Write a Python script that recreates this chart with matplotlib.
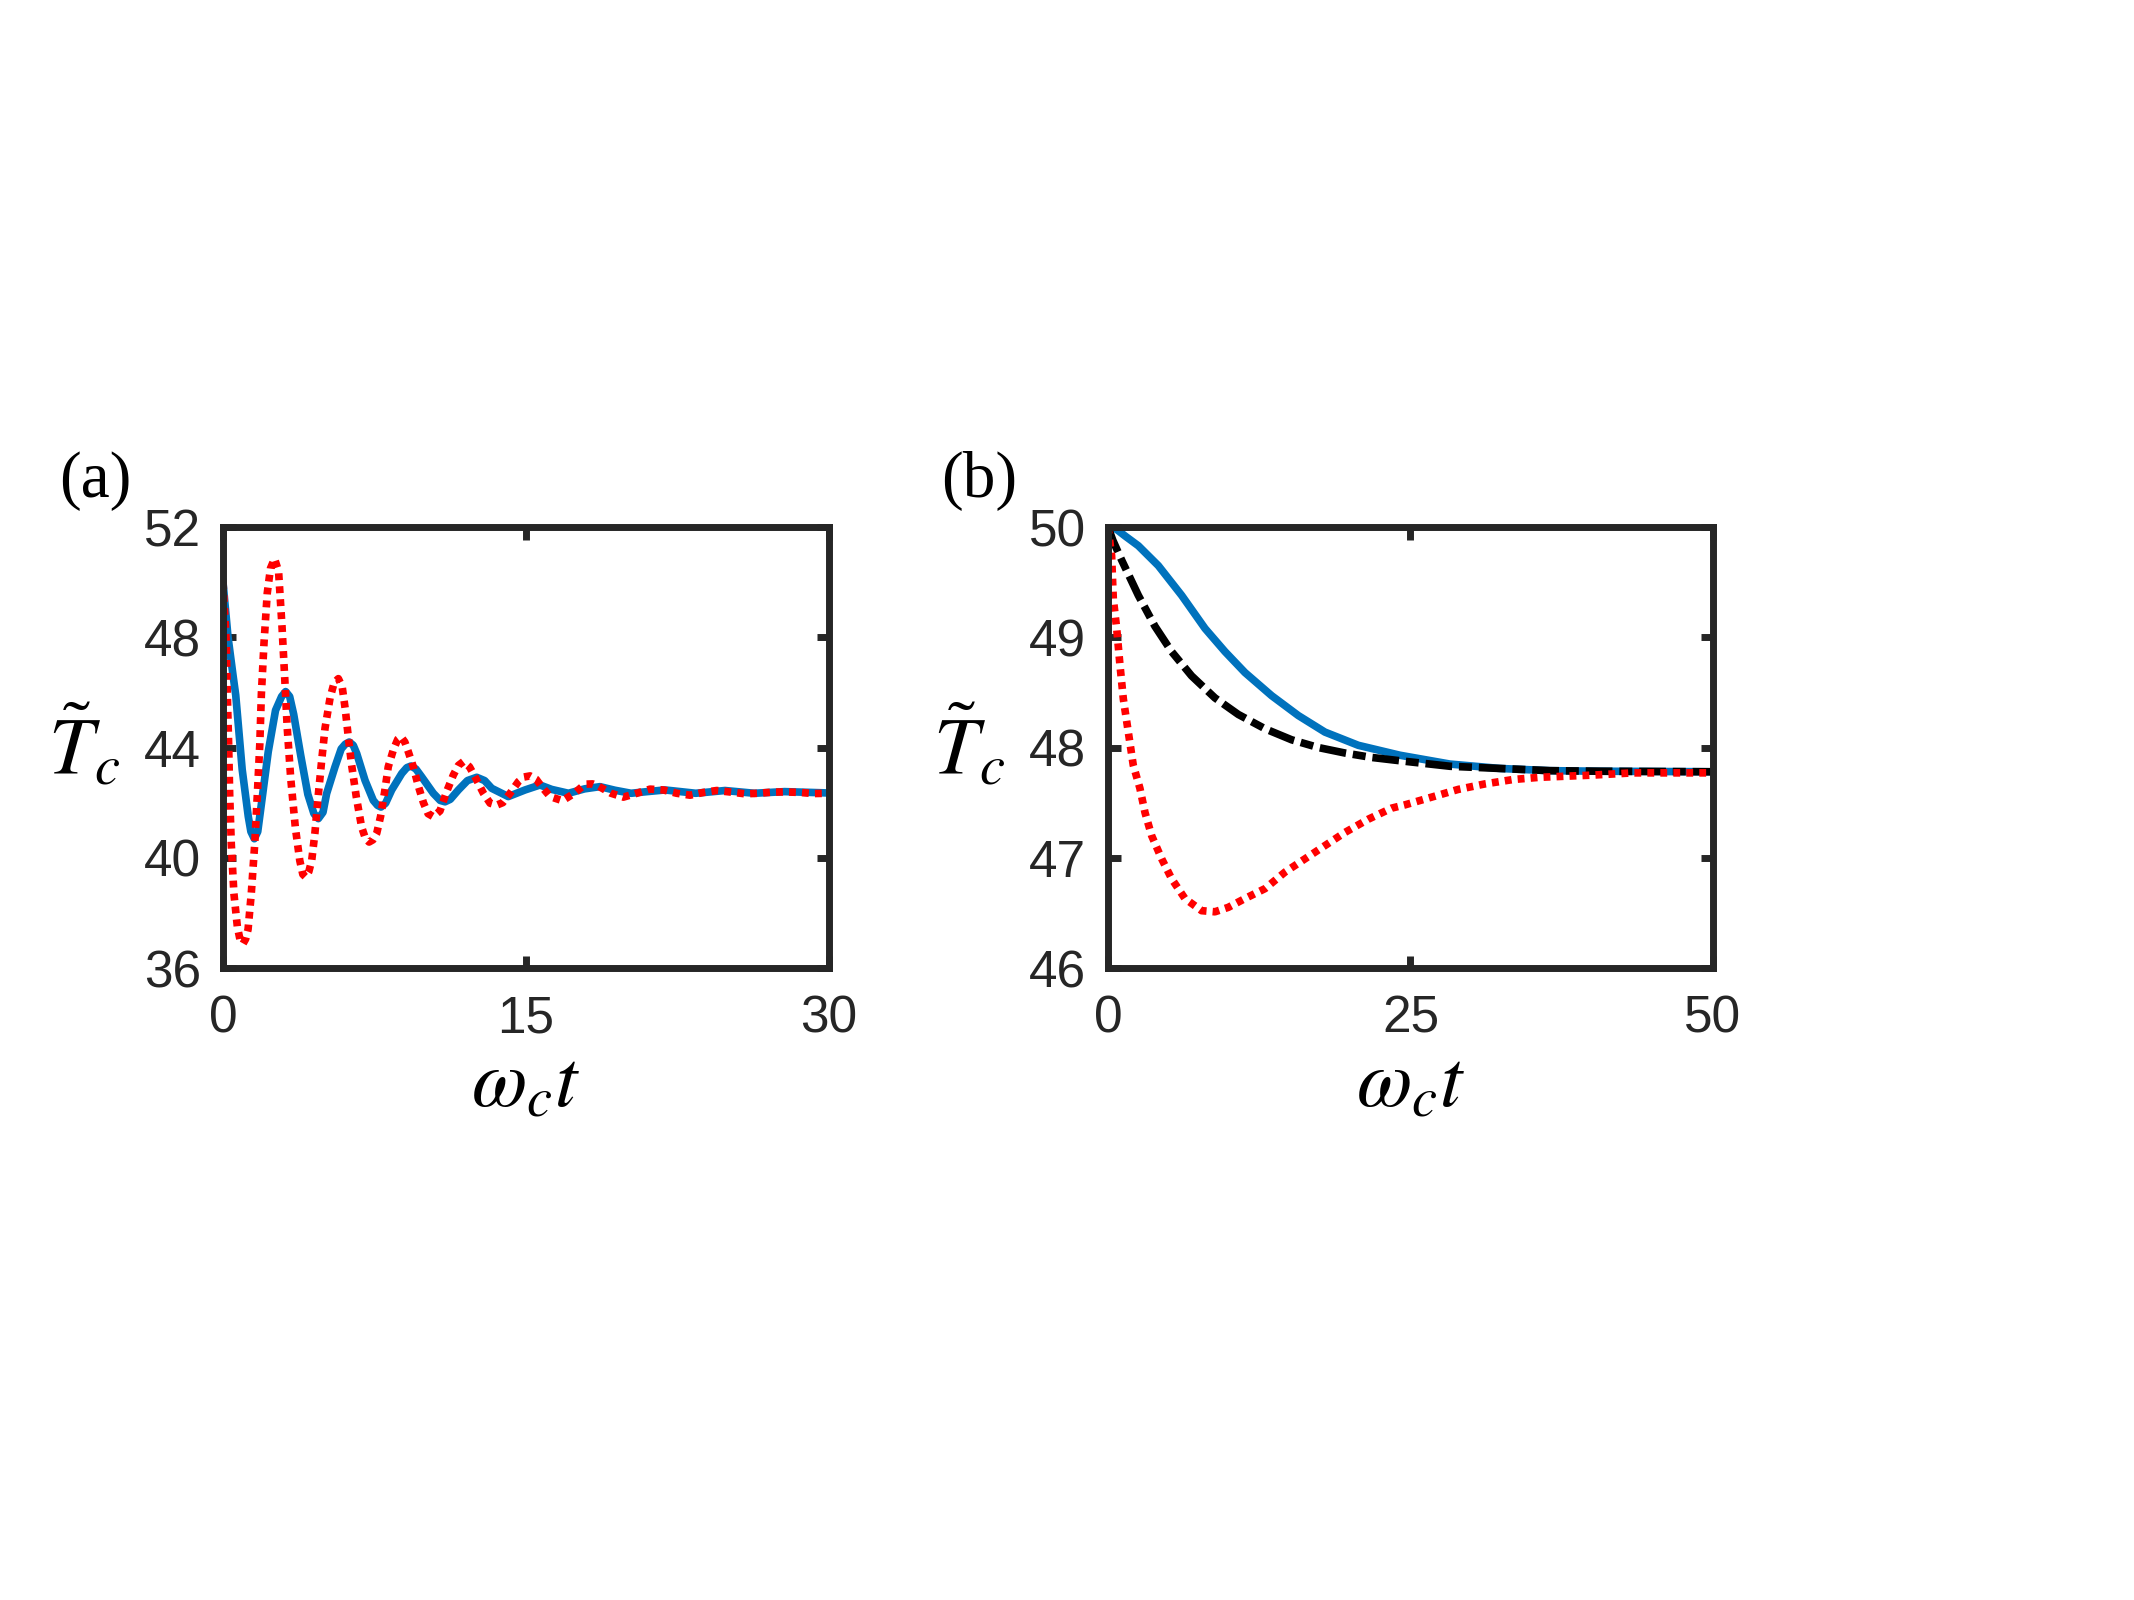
import matplotlib
matplotlib.use("Agg")
import matplotlib.pyplot as plt

plt.rcParams['mathtext.fontset'] = 'stix'
plt.rcParams['font.family'] = ['Liberation Sans', 'DejaVu Sans']

# ---- panel (a) data ----
ta_blue = [0, 0.25, 0.5, 0.63, 0.95, 1.25, 1.38, 1.55, 1.72, 1.9, 2.24, 2.6, 2.9, 3.1, 3.3,
           3.5, 3.85, 4.2, 4.5, 4.72, 4.95, 5.13, 5.54, 5.85, 6.05, 6.25, 6.45, 6.62, 7.03,
           7.44, 7.65, 7.82, 8.05, 8.35, 8.85, 9.1, 9.31, 9.55, 9.83, 10.41, 10.75, 10.99,
           11.25, 11.65, 12.1, 12.56, 12.95, 13.3, 14.12, 14.95, 15.69, 16.27, 17.1, 17.9,
           18.66, 19.4, 20.2, 21.0, 21.88, 23.4, 24.85, 26.3, 27.8, 30.0]
va_blue = [50.0, 48.0, 46.6, 45.9, 43.2, 41.5, 40.95, 40.69, 40.95, 41.95, 43.85, 45.35, 45.85,
           46.03, 45.85, 45.2, 43.7, 42.3, 41.6, 41.42, 41.65, 42.33, 43.29, 43.95, 44.12,
           44.2, 44.08, 43.78, 42.81, 42.08, 41.9, 41.84, 41.98, 42.46, 43.06, 43.27, 43.33,
           43.22, 42.94, 42.34, 42.08, 42.03, 42.12, 42.46, 42.8, 42.92, 42.8, 42.52, 42.22,
           42.46, 42.64, 42.48, 42.34, 42.5, 42.58, 42.45, 42.34, 42.4, 42.46, 42.34, 42.44,
           42.34, 42.40, 42.35]

ta_red = [0, 0.165, 0.21, 0.28, 0.33, 0.41, 0.54, 0.71, 0.85, 0.99, 1.12, 1.24, 1.40, 1.57,
          1.70, 1.82, 1.90, 2.03, 2.19, 2.35, 2.55, 2.75, 2.92, 3.05, 3.18, 3.35, 3.58, 3.80,
          3.95, 4.09, 4.25, 4.39, 4.55, 4.72, 4.88, 5.05, 5.30, 5.5, 5.71, 5.9, 6.05, 6.2,
          6.36, 6.6, 6.86, 7.05, 7.23, 7.42, 7.61, 7.8, 7.99, 8.18, 8.43, 8.65, 8.81, 9.0,
          9.17, 9.42, 9.67, 9.92, 10.15, 10.41, 10.74, 11.07, 11.4, 11.65, 11.9, 12.2, 12.56,
          12.89, 13.22, 13.55, 13.85, 14.21, 14.62, 14.9, 15.2, 15.5, 15.73, 16.19, 16.8,
          17.39, 17.92, 18.3, 18.58, 19.21, 19.82, 20.48, 21.14, 21.8, 22.46, 23.12, 23.78,
          24.44, 25.18, 25.84, 26.5, 27.16, 27.82, 28.57, 29.22, 30.0]
va_red = [50.0, 47.8, 46.0, 44.1, 42.3, 40.5, 38.7, 37.5, 37.0, 36.88, 37.05, 37.4, 38.7, 40.5,
          42.3, 44.1, 45.95, 47.8, 49.6, 50.5, 50.85, 50.4, 48.4, 46.6, 44.7, 42.9, 41.1, 39.9,
          39.4, 39.3, 39.5, 39.9, 40.9, 42.3, 43.5, 44.7, 45.8, 46.35, 46.5, 46.2, 45.4, 44.4,
          43.4, 42.2, 41.12, 40.7, 40.57, 40.65, 40.89, 41.5, 42.34, 43.3, 43.91, 44.3, 44.39,
          44.2, 43.85, 43.3, 42.6, 42.0, 41.6, 41.49, 41.7, 42.4, 43.0, 43.35, 43.49, 43.3,
          42.82, 42.34, 41.98, 41.91, 42.0, 42.34, 42.76, 42.93, 42.97, 42.85, 42.62, 42.22,
          42.07, 42.34, 42.67, 42.68, 42.6, 42.34, 42.2, 42.34, 42.49, 42.46, 42.34, 42.27,
          42.37, 42.44, 42.38, 42.32, 42.34, 42.38, 42.39, 42.37, 42.33, 42.34]

# ---- panel (b) data ----
tb_blue = [0, 0.7, 1.40, 2.51, 4.16, 6.09, 8.02, 9.67, 11.32, 13.53, 15.73, 17.93, 20.69,
           24.13, 28.26, 32.4, 36.53, 40.66, 50]
vb_blue = [50.0, 49.98, 49.92, 49.83, 49.65, 49.38, 49.08, 48.87, 48.68, 48.47, 48.29, 48.14,
           48.02, 47.93, 47.85, 47.81, 47.79, 47.785, 47.78]

tb_black = [0, 0.4, 1.13, 2.51, 3.88, 5.26, 6.91, 8.84, 10.77, 12.98, 15.18, 17.38, 19.59,
            21.79, 24.13, 28.26, 32.4, 36.53, 40.66, 50]
vb_black = [50.0, 49.88, 49.7, 49.38, 49.1, 48.87, 48.65, 48.45, 48.3, 48.17, 48.07, 48.0,
            47.95, 47.91, 47.88, 47.83, 47.81, 47.79, 47.785, 47.78]

tb_red = [0, 0.30, 0.44, 0.72, 0.99, 1.27, 1.68, 2.09, 2.64, 3.06, 3.61, 4.44, 5.26, 6.36,
          7.74, 8.84, 9.94, 11.32, 12.98, 14.63, 16.28, 17.93, 19.59, 21.52, 23.44, 24.55,
          26.75, 28.95, 31.16, 33.5, 35.7, 37.9, 40.1, 43.4, 46.7, 50]
vb_red = [50.0, 49.74, 49.35, 49.08, 48.75, 48.44, 48.14, 47.84, 47.63, 47.41, 47.20, 46.99,
          46.81, 46.63, 46.52, 46.51, 46.55, 46.63, 46.72, 46.87, 46.99, 47.11, 47.23, 47.35,
          47.45, 47.48, 47.55, 47.62, 47.67, 47.71, 47.73, 47.74, 47.75, 47.77, 47.77, 47.77]

BLUE = '#0072BD'
RED = '#FF0000'
DARK = '#262626'
LW = 5.5

fig = plt.figure(figsize=(21.34, 16), dpi=100)
ax_a = fig.add_axes([0.1045, 0.395, 0.284, 0.2756])
ax_b = fig.add_axes([0.5192, 0.395, 0.2835, 0.2756])


def style_axes(ax, xlim, ylim, xticks, yticks):
    ax.set_xlim(xlim)
    ax.set_ylim(ylim)
    ax.set_xticks(xticks)
    ax.set_yticks(yticks)
    for sp in ax.spines.values():
        sp.set_linewidth(5)
        sp.set_color(DARK)
    ax.tick_params(direction='in', length=9, width=5, color=DARK, labelcolor=DARK,
                   labelsize=37, pad=16, top=True, right=True)
    ax.tick_params(axis='x', pad=19)
    ax.set_ylabel(r'$\tilde{T}_c$', fontsize=58, rotation=0, labelpad=17,
                  va='center', ha='right', color='black')
    ax.set_xlabel(r'$\omega_c t$', fontsize=58, labelpad=3, color='black')


ax_a.plot(ta_blue, va_blue, color=BLUE, lw=LW, solid_joinstyle='round')
ax_a.plot(ta_red, va_red, color=RED, lw=LW, linestyle=(0, (0.9, 0.8)))
style_axes(ax_a, (0, 30), (36, 52), [0, 15, 30], [36, 40, 44, 48, 52])

ax_b.plot(tb_blue, vb_blue, color=BLUE, lw=LW, solid_joinstyle='round')
ax_b.plot(tb_black, vb_black, color='black', lw=LW, linestyle=(0, (3.5, 0.9, 1.7, 0.9)))
ax_b.plot(tb_red, vb_red, color=RED, lw=LW, linestyle=(0, (0.9, 0.8)))
style_axes(ax_b, (0, 50), (46, 50), [0, 25, 50], [46, 47, 48, 49, 50])

fig.text(59 / 2134, 1 - 497 / 1600, '(a)', fontsize=47, family='Liberation Serif')
fig.text(941 / 2134, 1 - 497 / 1600, '(b)', fontsize=47, family='Liberation Serif')

fig.savefig('out.png', dpi=100)
